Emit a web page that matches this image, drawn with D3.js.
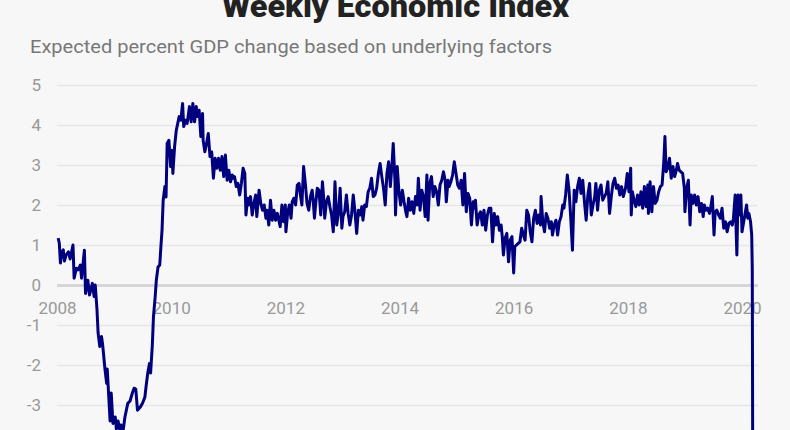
<!DOCTYPE html>
<html>
<head>
<meta charset="utf-8">
<script src="https://cdn.jsdelivr.net/npm/d3@7"></script>
<style>
  body { margin: 0; background: #f7f7f7; }
  svg { display: block; }
</style>
</head>
<body>
<svg id="chart"></svg>
<script>
const width = 790;
const height = 430;

const title = "Weekly Economic Index";
const subtitle = "Expected percent GDP change based on underlying factors";

const yearTicks = [2008, 2010, 2012, 2014, 2016, 2018, 2020];
const valueTicks = [-3, -2, -1, 0, 1, 2, 3, 4, 5];

// [decimal year, percent]
const wei2008 = [[2008.02,1.17],[2008.04,1.05],[2008.06,0.55],[2008.08,0.8],[2008.11,0.88],[2008.13,0.6],[2008.16,0.75],[2008.20,0.83],[2008.23,0.65],[2008.28,1.0],[2008.30,0.17],[2008.34,0.42],[2008.37,0.38],[2008.41,0.5],[2008.43,0.17],[2008.48,0.87],[2008.50,-0.21],[2008.54,0.12],[2008.57,-0.25],[2008.62,0.04],[2008.65,-0.29],[2008.67,0.0],[2008.70,-0.6],[2008.72,-1.2],[2008.75,-1.54],[2008.78,-1.29],[2008.80,-1.5],[2008.84,-2.1],[2008.87,-2.46],[2008.88,-2.1],[2008.93,-3.4],[2008.95,-2.7],[2008.98,-3.46]];
const wei2009 = [[2009.02,-3.3],[2009.04,-3.6],[2009.07,-3.4],[2009.10,-3.62],[2009.12,-3.5],[2009.16,-3.62],[2009.19,-3.3],[2009.24,-2.96],[2009.28,-2.9],[2009.32,-2.7],[2009.35,-2.58],[2009.38,-2.6],[2009.41,-3.13],[2009.46,-3.05],[2009.50,-2.95],[2009.54,-2.8],[2009.56,-2.54],[2009.59,-2.2],[2009.62,-1.96],[2009.64,-2.2],[2009.67,-1.5],[2009.69,-0.79],[2009.72,-0.29],[2009.74,0.12],[2009.77,0.45],[2009.80,0.5],[2009.82,0.96],[2009.84,1.37],[2009.86,2.12],[2009.89,2.46],[2009.91,2.2],[2009.93,3.54],[2009.96,3.62],[2009.99,2.96]];
const wei2010 = [[2010.01,3.37],[2010.03,2.79],[2010.06,3.46],[2010.09,3.87],[2010.14,4.21],[2010.17,4.12],[2010.20,4.54],[2010.22,3.96],[2010.25,4.12],[2010.28,4.04],[2010.32,4.46],[2010.35,4.08],[2010.38,4.54],[2010.41,4.08],[2010.44,4.46],[2010.46,4.21],[2010.49,4.37],[2010.52,3.71],[2010.55,4.29],[2010.56,3.62],[2010.59,3.33],[2010.62,3.54],[2010.65,3.79],[2010.68,3.21],[2010.71,3.33],[2010.74,2.67],[2010.77,3.17],[2010.80,2.92],[2010.83,3.17],[2010.86,2.87],[2010.89,3.21],[2010.92,2.71],[2010.95,3.25],[2010.98,2.62]];
const wei2011 = [[2011.01,2.87],[2011.04,2.58],[2011.07,2.75],[2011.09,2.67],[2011.11,2.71],[2011.14,2.46],[2011.17,2.54],[2011.20,2.25],[2011.23,2.54],[2011.26,2.92],[2011.29,2.79],[2011.31,1.75],[2011.34,2.17],[2011.36,2.0],[2011.39,2.21],[2011.42,1.75],[2011.45,2.04],[2011.48,2.25],[2011.50,1.71],[2011.54,2.37],[2011.57,2.04],[2011.60,1.87],[2011.63,2.0],[2011.66,1.67],[2011.68,1.87],[2011.71,1.5],[2011.74,2.12],[2011.77,1.62],[2011.80,1.87],[2011.83,1.62],[2011.86,1.79],[2011.91,1.46],[2011.94,2.0],[2011.97,1.58]];
const wei2012 = [[2012.00,2.0],[2012.01,1.33],[2012.04,1.79],[2012.07,2.0],[2012.10,1.67],[2012.12,2.08],[2012.15,2.17],[2012.18,2.0],[2012.21,2.5],[2012.24,2.54],[2012.26,2.29],[2012.29,2.0],[2012.32,2.96],[2012.35,2.54],[2012.38,2.04],[2012.41,1.87],[2012.44,2.21],[2012.47,2.37],[2012.49,2.08],[2012.51,1.67],[2012.53,2.0],[2012.56,2.42],[2012.59,2.37],[2012.62,1.75],[2012.65,2.58],[2012.67,2.21],[2012.69,1.67],[2012.72,2.08],[2012.75,2.21],[2012.78,1.96],[2012.81,1.75],[2012.84,1.33],[2012.87,2.58],[2012.90,1.5],[2012.93,1.79],[2012.96,2.42]];
const wei2013 = [[2012.99,1.42],[2013.01,1.71],[2013.04,1.83],[2013.07,2.25],[2013.10,1.79],[2013.13,1.5],[2013.16,1.75],[2013.19,2.25],[2013.22,1.83],[2013.25,1.29],[2013.28,1.87],[2013.31,1.75],[2013.34,1.96],[2013.36,1.62],[2013.39,2.0],[2013.42,1.96],[2013.45,2.33],[2013.48,2.42],[2013.51,2.67],[2013.54,2.21],[2013.57,2.25],[2013.60,2.42],[2013.63,2.79],[2013.66,3.04],[2013.69,2.71],[2013.72,2.42],[2013.75,2.0],[2013.78,2.79],[2013.81,3.08],[2013.84,2.46],[2013.87,3.04],[2013.89,3.54],[2013.92,2.62],[2013.93,1.75],[2013.96,2.96]];
const wei2014 = [[2013.99,2.33],[2014.02,2.0],[2014.05,2.37],[2014.08,2.08],[2014.11,1.83],[2014.13,1.71],[2014.16,2.17],[2014.19,1.87],[2014.22,2.08],[2014.25,1.79],[2014.28,2.21],[2014.31,2.0],[2014.33,2.67],[2014.36,1.87],[2014.39,2.37],[2014.42,2.21],[2014.45,1.71],[2014.48,2.75],[2014.50,1.62],[2014.53,2.54],[2014.56,2.71],[2014.59,2.21],[2014.62,2.46],[2014.65,2.33],[2014.68,2.0],[2014.71,2.5],[2014.74,2.62],[2014.77,2.83],[2014.80,2.62],[2014.82,2.08],[2014.85,2.62],[2014.87,2.46],[2014.90,2.58],[2014.93,2.75],[2014.96,3.08],[2014.99,2.79]];
const wei2015 = [[2015.02,2.5],[2015.05,2.42],[2015.08,2.62],[2015.11,2.0],[2015.14,2.79],[2015.17,1.83],[2015.20,2.29],[2015.23,2.17],[2015.26,1.5],[2015.29,2.08],[2015.31,1.92],[2015.33,2.12],[2015.36,1.5],[2015.39,1.75],[2015.42,1.83],[2015.45,1.5],[2015.48,1.87],[2015.51,1.37],[2015.54,1.75],[2015.57,1.92],[2015.60,1.92],[2015.63,1.08],[2015.66,1.79],[2015.69,1.5],[2015.72,1.71],[2015.75,1.37],[2015.78,1.5],[2015.80,1.21],[2015.82,0.75],[2015.85,1.17],[2015.88,1.29],[2015.91,0.58],[2015.94,1.12],[2015.97,1.21]];
const wei2016 = [[2016.00,0.3],[2016.02,0.96],[2016.05,1.0],[2016.08,1.04],[2016.11,1.08],[2016.14,1.42],[2016.17,1.25],[2016.20,1.12],[2016.23,1.87],[2016.26,1.75],[2016.29,1.33],[2016.32,1.08],[2016.35,1.67],[2016.38,1.87],[2016.41,1.54],[2016.44,1.75],[2016.47,1.5],[2016.48,2.21],[2016.51,1.58],[2016.54,1.33],[2016.57,1.79],[2016.60,1.67],[2016.63,1.42],[2016.66,1.58],[2016.68,1.25],[2016.71,1.5],[2016.74,1.62],[2016.77,1.25],[2016.80,1.58],[2016.83,1.71],[2016.86,2.0],[2016.88,1.92],[2016.91,2.25],[2016.94,2.75],[2016.97,2.37]];
const wei2017 = [[2017.00,1.67],[2017.03,0.87],[2017.06,2.37],[2017.09,2.08],[2017.12,2.46],[2017.15,2.67],[2017.18,2.29],[2017.21,2.62],[2017.24,2.08],[2017.27,1.62],[2017.30,2.25],[2017.33,2.54],[2017.36,1.75],[2017.39,2.0],[2017.42,2.21],[2017.44,2.54],[2017.47,1.87],[2017.50,2.37],[2017.53,2.5],[2017.56,2.12],[2017.59,2.21],[2017.62,2.29],[2017.65,2.58],[2017.68,1.79],[2017.71,2.21],[2017.74,2.54],[2017.77,2.67],[2017.80,2.42],[2017.83,2.5],[2017.86,2.25],[2017.89,2.46],[2017.92,2.21],[2017.96,2.42],[2017.99,2.79]];
const wei2018 = [[2018.02,2.33],[2018.05,2.92],[2018.06,1.75],[2018.08,2.33],[2018.11,2.12],[2018.14,1.96],[2018.17,2.25],[2018.20,2.0],[2018.23,2.33],[2018.26,1.92],[2018.29,2.46],[2018.32,1.96],[2018.35,2.5],[2018.36,1.79],[2018.39,2.58],[2018.42,1.83],[2018.45,2.46],[2018.48,2.04],[2018.51,2.12],[2018.54,2.33],[2018.57,2.46],[2018.60,2.5],[2018.63,3.08],[2018.65,3.71],[2018.67,2.83],[2018.70,2.92],[2018.73,3.17],[2018.76,2.67],[2018.79,2.96],[2018.82,2.71],[2018.85,2.87],[2018.87,3.04],[2018.90,2.87],[2018.93,2.83],[2018.96,2.79],[2018.99,2.42]];
const wei2019 = [[2019.00,1.83],[2019.03,2.42],[2019.06,2.62],[2019.09,1.5],[2019.11,2.25],[2019.14,2.04],[2019.17,2.25],[2019.20,2.0],[2019.23,2.21],[2019.26,1.83],[2019.29,2.04],[2019.32,1.71],[2019.34,2.0],[2019.37,1.87],[2019.40,1.92],[2019.43,1.79],[2019.45,1.92],[2019.48,2.21],[2019.51,1.25],[2019.53,1.83],[2019.56,1.87],[2019.59,1.75],[2019.62,1.67],[2019.65,1.92],[2019.68,1.42],[2019.71,1.58],[2019.74,1.33],[2019.77,1.54],[2019.80,1.58],[2019.83,1.5],[2019.85,1.67],[2019.88,2.25],[2019.91,0.75],[2019.93,2.25],[2019.96,1.75],[2019.98,2.25]];
const wei2020 = [[2020.00,1.33],[2020.03,1.58],[2020.05,1.75],[2020.08,2.0],[2020.10,1.67],[2020.12,1.79],[2020.15,1.58],[2020.17,1.25],[2020.18,0.4],[2020.20,-11.5]];

const wei = [].concat(wei2008, wei2009, wei2010, wei2011, wei2012, wei2013, wei2014,
  wei2015, wei2016, wei2017, wei2018, wei2019, wei2020);

const font = "Roboto, 'Open Sans', sans-serif";

let svg = d3.select('#chart')
        .attr('width', width)
        .attr('height', height)
        .style('background-color', '#f7f7f7');

let x = d3.scaleLinear().domain([2008, 2020]).range([57, 742]);
let y = d3.scaleLinear().domain([-3, 5]).range([405, 85]);

// titles (the reference face is wider than Roboto, so stretch to its width)
svg.append("text")
   .attr("x", 222)
   .attr("y", 17)
   .attr("textLength", 347)
   .attr("lengthAdjust", "spacingAndGlyphs")
   .style("font-family", font)
   .style("font-weight", 900)
   .style("font-size", "31px")
   .style("fill", "#222")
   .text(title);

svg.append("text")
   .attr("x", 30)
   .attr("y", 53)
   .attr("textLength", 522)
   .attr("lengthAdjust", "spacingAndGlyphs")
   .style("font-family", font)
   .style("font-size", "17.5px")
   .style("fill", "#777")
   .text(subtitle);

// horizontal grid + value labels
let yAxis = d3.axisLeft(y)
    .tickValues(valueTicks)
    .tickSize(-(758 - 57))
    .tickPadding(16)
    .tickFormat(d => d < 0 ? "-" + Math.abs(d) : d);

let gy = svg.append("g")
    .attr("transform", "translate(57,0)")
    .call(yAxis);
gy.select(".domain").remove();
gy.selectAll(".tick line")
  .attr("stroke", d => d === 0 ? "#d6d6d6" : "#e6e6e6")
  .attr("stroke-width", d => d === 0 ? 3 : 1.5);
gy.selectAll(".tick text")
  .style("font-family", font)
  .style("font-size", "17px")
  .style("fill", "#999");

// year labels sit under the zero line
let xAxis = d3.axisBottom(x)
    .tickValues(yearTicks)
    .tickSize(0)
    .tickPadding(17)
    .tickFormat(d3.format("d"));

let gx = svg.append("g")
    .attr("transform", "translate(0," + y(0) + ")")
    .call(xAxis);
gx.select(".domain").remove();
gx.selectAll(".tick text")
  .style("font-family", font)
  .style("font-size", "17px")
  .style("fill", "#999");

// the index line
let line = d3.line()
    .x(d => x(d[0]))
    .y(d => y(d[1]));

svg.append("path")
   .datum(wei)
   .attr("d", line)
   .attr("fill", "none")
   .attr("stroke", "#00007f")
   .attr("stroke-width", 3)
   .attr("stroke-linejoin", "round");
</script>
</body>
</html>
